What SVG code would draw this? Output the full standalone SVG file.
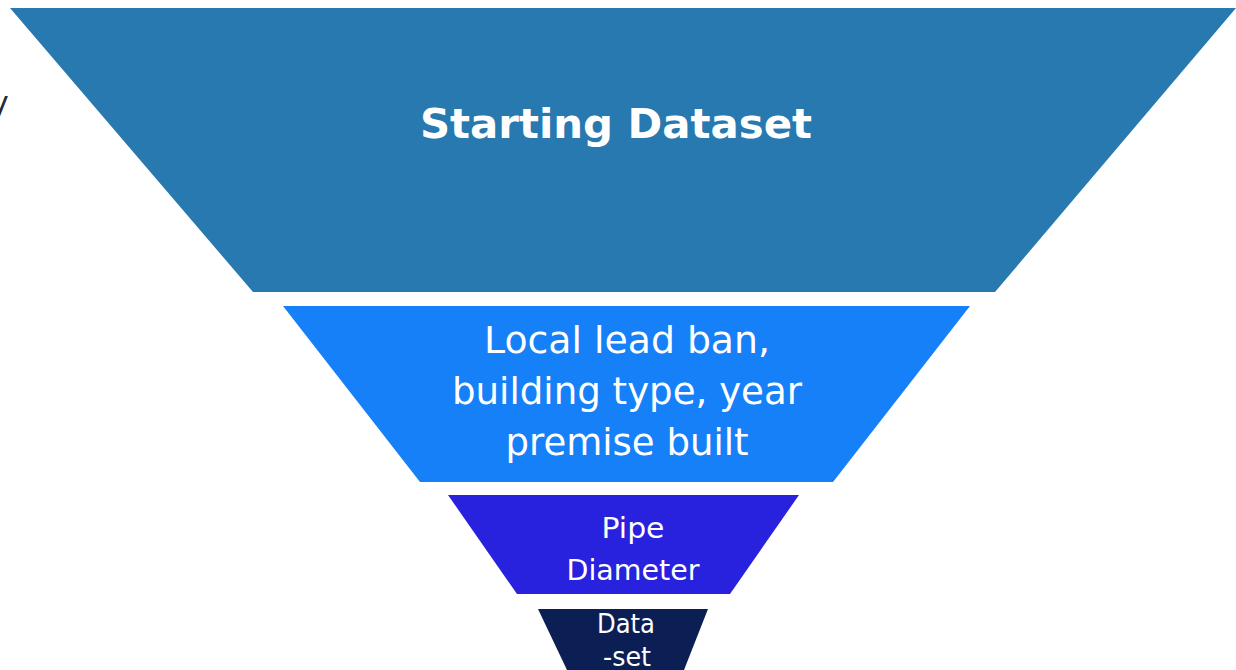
<svg xmlns="http://www.w3.org/2000/svg" width="1236" height="670" viewBox="0 0 1236 670">
<style>
.t{fill:#ffffff;font-family:"DejaVu Sans","Verdana","Liberation Sans",sans-serif;text-anchor:middle}
.b{font-weight:bold}
</style>
<rect width="1236" height="670" fill="#ffffff"/>
<text x="-9" y="113" font-family="DejaVu Sans, sans-serif" font-size="30" fill="#1f2a44">y</text>
<g id="starting-dataset">
<polygon points="10,8 1236,8 995,292 253,292" fill="#2779b0"/>
<text class="t b" x="616" y="138" font-size="40" textLength="392" lengthAdjust="spacingAndGlyphs">Starting Dataset</text>
</g>
<g id="local-lead-ban">
<polygon points="283,306 970,306 833,482 420,482" fill="#1680f8"/>
<text class="t" x="627" y="353" font-size="38" textLength="286" lengthAdjust="spacingAndGlyphs">Local lead ban,</text>
<text class="t" x="627" y="404" font-size="38" textLength="350" lengthAdjust="spacingAndGlyphs">building type, year</text>
<text class="t" x="627" y="455" font-size="38" textLength="243" lengthAdjust="spacingAndGlyphs">premise built</text>
</g>
<g id="pipe-diameter">
<polygon points="448,495 799,495 730,594 517,594" fill="#2822de"/>
<text class="t" x="633" y="538" font-size="29" textLength="63" lengthAdjust="spacingAndGlyphs">Pipe</text>
<text class="t" x="633" y="580" font-size="29" textLength="133" lengthAdjust="spacingAndGlyphs">Diameter</text>
</g>
<g id="dataset">
<polygon points="538,609 708,609 684,670 567,670" fill="#0b1f55"/>
<text class="t" x="626" y="633" font-size="26" textLength="58" lengthAdjust="spacingAndGlyphs">Data</text>
<text class="t" x="627" y="666" font-size="26" textLength="48" lengthAdjust="spacingAndGlyphs">-set</text>
</g>
<g id="connectors"></g>
</svg>
